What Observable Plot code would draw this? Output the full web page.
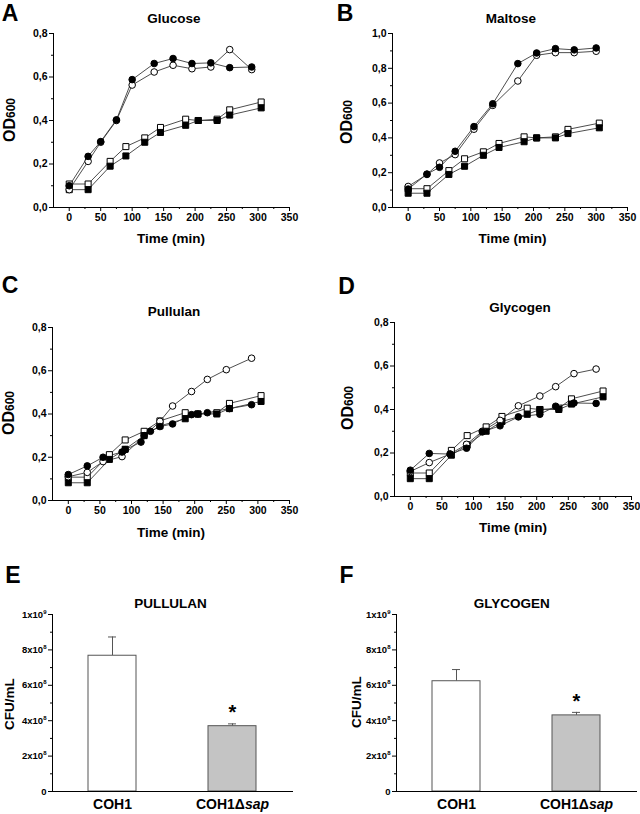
<!DOCTYPE html>
<html><head><meta charset="utf-8">
<script src="https://cdn.jsdelivr.net/npm/d3@7"></script>
<script src="https://cdn.jsdelivr.net/npm/@observablehq/plot@0.6"></script>
<style>
body{margin:0;background:#fff;}
#root{position:relative;width:640px;height:814px;font-family:"Liberation Sans",Arial,sans-serif;font-weight:bold;color:#000;overflow:hidden;}
.abs{position:absolute;white-space:nowrap;line-height:1.15;transform:translate(-50%,-50%);}
.letter{font-size:23px;}
.title{font-size:13.5px;}
.xlab{font-size:13.5px;}
.ylab{transform:translate(-50%,-50%) rotate(-90deg);}
</style></head><body><div id="root"></div><script>
// ---------- data ----------
// control series (squares) — identical in panels A–D
const sqTime = [0, 30, 65, 90, 120, 145, 185, 205, 235, 255, 305];
const openSquare = [0.108, 0.108, 0.212, 0.28, 0.32, 0.368, 0.406, 0.40, 0.406, 0.449, 0.485];
const filledSquare = [0.082, 0.082, 0.19, 0.237, 0.30, 0.345, 0.378, 0.40, 0.40, 0.425, 0.458];

// A Glucose
const glcTime = [0, 30, 50, 75, 100, 135, 165, 195, 225, 255, 290];
const glcFilled = [0.10, 0.235, 0.303, 0.403, 0.588, 0.662, 0.685, 0.662, 0.665, 0.643, 0.646];
const glcOpen = [0.082, 0.212, 0.30, 0.40, 0.563, 0.623, 0.654, 0.638, 0.646, 0.726, 0.634];

// B Maltose
const malTime = [0, 30, 50, 75, 105, 135, 175, 205, 235, 265, 300];
const malFilled = [0.106, 0.192, 0.231, 0.323, 0.465, 0.596, 0.827, 0.888, 0.913, 0.906, 0.917];
const malOpen = [0.121, 0.19, 0.256, 0.304, 0.45, 0.587, 0.727, 0.875, 0.89, 0.89, 0.898];

// C Pullulan
const pulFilledTime = [0, 30, 55, 85, 90, 115, 120, 130, 145, 165, 195, 205, 220, 255, 290];
const pulFilled = [0.12, 0.16, 0.20, 0.224, 0.235, 0.27, 0.30, 0.32, 0.342, 0.354, 0.397, 0.40, 0.406, 0.425, 0.443];
const pulOpenTime = [0, 30, 55, 85, 145, 165, 195, 220, 250, 290];
const pulOpen = [0.11, 0.13, 0.18, 0.203, 0.366, 0.437, 0.504, 0.56, 0.605, 0.658];

// D Glycogen
const glyTime = [0, 30, 63, 89, 114, 142, 171, 205, 230, 259, 294];
const glyFilled = [0.121, 0.198, 0.195, 0.222, 0.297, 0.325, 0.366, 0.378, 0.415, 0.43, 0.428];
const glyOpen = [0.115, 0.156, 0.195, 0.24, 0.30, 0.35, 0.417, 0.462, 0.505, 0.565, 0.586];

// E/F bars
const strains = ["COH1", "COH1Δsap"];
const barFills = ["#ffffff", "#c4c4c4"];
const pullulanCFU = [7.67e8, 3.69e8];
const pullulanErr = [1.06e8, 0.13e8];
const glycogenCFU = [6.23e8, 4.30e8];
const glycogenErr = [0.66e8, 0.17e8];

const xMajor = [0, 50, 100, 150, 200, 250, 300, 350];
const xMinor = [25, 75, 125, 175, 225, 275, 325];

// ---------- drawing ----------
const root = document.getElementById("root");
const NS = "http://www.w3.org/2000/svg";
const FONT = "Liberation Sans, Arial, sans-serif";

function place(svg, left, top) {
  svg.style.position = "absolute";
  svg.style.left = left + "px";
  svg.style.top = top + "px";
  root.appendChild(svg);
}
function html(cls, x, y, content) {
  const d = document.createElement("div");
  d.className = "abs " + cls;
  d.style.left = x + "px";
  d.style.top = y + "px";
  d.innerHTML = content;
  root.appendChild(d);
}

function series(t, v, symbol, fill) {
  return {t, v, symbol, fill};
}

function linePanel(p) {
  const yTicks = d3.range(0, p.yMax + 1e-9, 0.2);
  const yMinor = d3.range(0.1, p.yMax, 0.2);
  const marks = [
    Plot.axisY(yMinor, {tickSize: 2, tickFormat: () => "", label: null}),
    Plot.axisY(yTicks, {tickSize: 4, tickPadding: 2, tickFormat: d => d.toFixed(1).replace(".", ","), label: null, fontSize: 10.5}),
    Plot.axisX(xMinor, {tickSize: 2, tickFormat: () => "", label: null}),
    Plot.axisX(xMajor, {tickSize: 4, tickPadding: 2, tickFormat: d => String(d), label: null, fontSize: 10.5}),
    Plot.ruleX([-25], {stroke: "#000"}),
    Plot.ruleY([0], {stroke: "#000"})
  ];
  for (const s of p.series) {
    marks.push(Plot.line(s.v, {x: (d, i) => s.t[i], y: d => d, stroke: "#3a3a3a", strokeWidth: 0.9}));
  }
  for (const s of p.series) {
    marks.push(Plot.dot(s.v, {x: (d, i) => s.t[i], y: d => d, symbol: s.symbol, fill: s.fill, stroke: "#000", strokeWidth: 1, r: s.symbol === "square" ? 3.4 : 3.3}));
  }
  const svg = Plot.plot({
    width: p.width, height: p.height,
    marginLeft: p.mL, marginRight: p.mR, marginTop: p.mT, marginBottom: p.mB,
    style: {fontFamily: FONT, fontWeight: "bold", color: "#000", background: "transparent", overflow: "visible"},
    x: {domain: [-25, 350]},
    y: {domain: [0, p.yMax]},
    marks
  });
  place(svg, p.left, p.top);
}

function sciFmt(d) {
  if (d === 0) return "0";
  const e = Math.floor(Math.log10(d) + 1e-9);
  const m = Math.round(d / 10 ** e);
  return m + "x10^" + e;
}

function barPanel(p) {
  const rows = strains.map((s, i) => ({s, v: p.values[i], e: p.errs[i], fill: barFills[i]}));
  const svg = Plot.plot({
    width: p.width, height: p.height,
    marginLeft: p.mL, marginRight: p.mR, marginTop: p.mT, marginBottom: p.mB,
    style: {fontFamily: FONT, fontWeight: "bold", color: "#000", background: "transparent", overflow: "visible"},
    x: {domain: strains, padding: 0},
    y: {domain: [0, 1e9]},
    marks: [
      Plot.axisY(d3.range(1e8, 1e9, 2e8), {tickSize: 2, tickFormat: () => "", label: null}),
      Plot.axisY(d3.range(0, 1e9 + 1, 2e8), {tickSize: 4, tickPadding: 2, tickFormat: sciFmt, label: null, fontSize: 9.5}),
      Plot.axisX({tickSize: 0, tickPadding: 8, label: null, fontSize: 14}),
      Plot.ruleX(rows, {x: "s", y1: "v", y2: d => d.v + d.e, stroke: "#555"}),
      Plot.tickY(rows, {x: "s", y: d => d.v + d.e, insetLeft: 56, insetRight: 56, stroke: "#555"}),
      Plot.barY(rows, {x: "s", y: "v", fill: "fill", stroke: "#555", strokeWidth: 1, insetLeft: 36, insetRight: 36}),
      Plot.text(rows.slice(1), {x: "s", y: d => d.v + d.e, text: () => "*", dy: -11, fontSize: 20, fontWeight: "bold"}),
      Plot.frame({anchor: "left"}),
      Plot.frame({anchor: "bottom"})
    ]
  });
  // superscripts and italics in tick labels
  svg.querySelectorAll("text").forEach(t => {
    const s = t.textContent;
    const m = s.match(/^(.*)\^(\d+)$/);
    if (m) {
      t.textContent = "";
      const a = document.createElementNS(NS, "tspan"); a.textContent = m[1];
      const b = document.createElementNS(NS, "tspan"); b.textContent = m[2];
      b.setAttribute("dy", "-4"); b.setAttribute("font-size", "6");
      t.appendChild(a); t.appendChild(b);
    } else if (s === "COH1Δsap") {
      t.textContent = "";
      const a = document.createElementNS(NS, "tspan"); a.textContent = "COH1Δ";
      const b = document.createElementNS(NS, "tspan"); b.textContent = "sap";
      b.setAttribute("font-style", "italic");
      t.appendChild(a); t.appendChild(b);
    }
  });
  place(svg, p.left, p.top);
}

const sq = [series(sqTime, openSquare, "square", "#fff"), series(sqTime, filledSquare, "square", "#000")];

linePanel({left: 0, top: 25, width: 300, height: 207, mL: 53, mR: 11, mT: 8, mB: 25, yMax: 0.8,
  series: [...sq, series(glcTime, glcOpen, "circle", "#fff"), series(glcTime, glcFilled, "circle", "#000")]});
linePanel({left: 320, top: 25, width: 320, height: 207, mL: 72, mR: 13, mT: 8, mB: 25, yMax: 1.0,
  series: [...sq, series(malTime, malOpen, "circle", "#fff"), series(malTime, malFilled, "circle", "#000")]});
linePanel({left: 0, top: 319, width: 300, height: 206, mL: 52, mR: 11, mT: 8, mB: 25, yMax: 0.8,
  series: [...sq, series(pulOpenTime, pulOpen, "circle", "#fff"), series(pulFilledTime, pulFilled, "circle", "#000")]});
linePanel({left: 320, top: 314, width: 320, height: 207, mL: 74, mR: 9, mT: 8, mB: 25, yMax: 0.8,
  series: [...sq, series(glyTime, glyOpen, "circle", "#fff"), series(glyTime, glyFilled, "circle", "#000")]});

barPanel({left: 0, top: 606, width: 320, height: 208, mL: 52, mR: 28, mT: 8, mB: 23, values: pullulanCFU, errs: pullulanErr});
barPanel({left: 320, top: 606, width: 320, height: 208, mL: 76, mR: 4, mT: 8, mB: 23, values: glycogenCFU, errs: glycogenErr});

// letters
html("letter", 10, 13, "A");
html("letter", 345, 13, "B");
html("letter", 10, 285, "C");
html("letter", 346.5, 285.5, "D");
html("letter", 13, 574.5, "E");
html("letter", 346.5, 574.5, "F");
// titles
html("title", 174, 19, "Glucose");
html("title", 511, 19, "Maltose");
html("title", 174, 312, "Pullulan");
html("title", 520, 308, "Glycogen");
html("title", 170.5, 604, "PULLULAN");
html("title", 511.7, 604, "GLYCOGEN");
// x labels
html("xlab", 171, 239, "Time (min)");
html("xlab", 512.5, 239, "Time (min)");
html("xlab", 171, 533, "Time (min)");
html("xlab", 513, 528, "Time (min)");
// y labels
const od = '<span style="font-size:16px">OD</span><span style="font-size:12px">600</span>';
html("ylab", 9.5, 120, od);
html("ylab", 347, 121.7, od);
html("ylab", 9, 413.3, od);
html("ylab", 347.5, 408.3, od);
html("ylab xlab", 9.5, 704, "CFU/mL");
html("ylab xlab", 356.5, 702, "CFU/mL");
</script></body></html>
